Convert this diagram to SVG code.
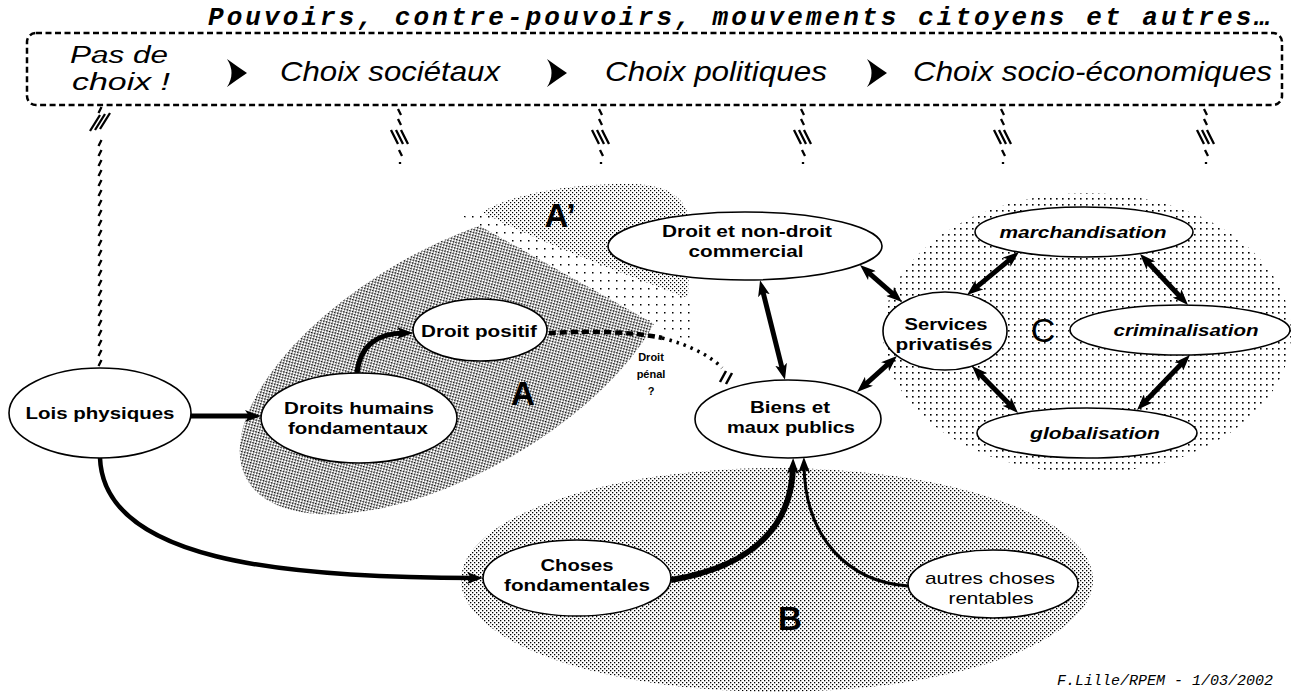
<svg xmlns="http://www.w3.org/2000/svg" xmlns:xlink="http://www.w3.org/1999/xlink" width="1297" height="693" viewBox="0 0 1297 693">
<style>
.sans{font-family:"Liberation Sans",Arial,sans-serif;fill:#000}
.mono{font-family:"Liberation Mono","Courier New",monospace;fill:#000}
.nb{font-weight:bold;font-size:17px;text-anchor:middle}
.nr{font-size:17px;text-anchor:middle}
.ni{font-weight:bold;font-style:italic;font-size:17px;text-anchor:middle}
.hd{font-style:italic;font-size:28px}
.hd2{font-style:italic;font-size:23px}
.big{font-weight:bold;font-size:33px;text-anchor:middle}
.node{fill:#fff;stroke:#000;stroke-width:1.6}
.arr{fill:none;stroke:#000;stroke-linecap:butt}
.hatch{fill:none;stroke:#000;stroke-width:2.3}
</style>
<defs>
<pattern id="pA" width="4" height="4" patternUnits="userSpaceOnUse"><rect width="1.6" height="1.6" fill="#000"/><rect x="2" y="2" width="1.6" height="1.6" fill="#000"/></pattern>
<pattern id="pA2" width="4" height="4" patternUnits="userSpaceOnUse"><rect width="1.2" height="1.2" fill="#000"/><rect x="2" y="2" width="1.2" height="1.2" fill="#000"/></pattern>
<pattern id="pB" width="4" height="4" patternUnits="userSpaceOnUse"><rect width="1.3" height="1.3" fill="#000"/><rect x="2" y="2" width="1.3" height="1.3" fill="#000"/></pattern>
<pattern id="pC" width="6" height="6" patternUnits="userSpaceOnUse"><rect width="1.6" height="1.6" fill="#000"/></pattern>
<pattern id="pS" width="8" height="8" patternUnits="userSpaceOnUse"><rect width="1.5" height="1.5" fill="#000"/></pattern>
<marker id="ah" viewBox="0 0 16 12" markerWidth="16" markerHeight="12" refX="8" refY="6" orient="auto-start-reverse" markerUnits="userSpaceOnUse"><path d="M0,0 L16,6 L0,12 L4,6 Z" fill="#000"/></marker>
<g id="hs" class="hatch"><path d="M-2,3 l3,6 M-2,13 l3,6 M-9,24 l7,14 M-4,24 l7,14 M1,24 l7,14 M-1,44 l3,6 M0,56 l0,2"/></g>
</defs>
<rect width="1297" height="693" fill="#fff"/>

<g id="regions">
<ellipse cx="455" cy="360" rx="240" ry="112" transform="rotate(-30 455 360)" fill="url(#pA)"/>
<path d="M462,216 L500,212 L690,300 L690,342 L672,334 Z" fill="#fff"/>
<path d="M462,216 L500,212 L690,300 L690,342 L672,334 Z" fill="url(#pS)"/>
<path d="M482,212 C512,194 572,183 632,184 C672,185 690,200 690,230 L688,298 C640,280 545,245 482,212 Z" fill="#fff"/>
<path d="M482,212 C512,194 572,183 632,184 C672,185 690,200 690,230 L688,298 C640,280 545,245 482,212 Z" fill="url(#pA2)"/>
<ellipse cx="777" cy="580" rx="316" ry="112" fill="url(#pB)"/>
<ellipse cx="1087" cy="333" rx="204" ry="140" fill="url(#pC)"/>
</g>

<g id="header">
<text class="mono" x="208" y="25" font-size="26" font-weight="bold" font-style="italic" textLength="1062" lengthAdjust="spacing">Pouvoirs, contre-pouvoirs, mouvements citoyens et autres…</text>
<rect x="27" y="33" width="1255" height="72" rx="9" fill="none" stroke="#000" stroke-width="2.5" stroke-dasharray="6 3.5"/>
<text class="sans hd2" x="70" y="63" textLength="98" lengthAdjust="spacingAndGlyphs">Pas de</text>
<text class="sans hd2" x="72" y="90" textLength="98" lengthAdjust="spacingAndGlyphs">choix  !</text>
<text class="sans hd" x="280" y="81" textLength="220" lengthAdjust="spacingAndGlyphs">Choix sociétaux</text>
<text class="sans hd" x="605" y="81" textLength="222" lengthAdjust="spacingAndGlyphs">Choix politiques</text>
<text class="sans hd" x="913" y="81" textLength="359" lengthAdjust="spacingAndGlyphs">Choix socio-économiques</text>
<path d="M227,59 Q238,67 247,73 Q238,79 227,87 Q236,73 227,59 Z" fill="#000"/>
<path d="M547,59 Q558,67 567,73 Q558,79 547,87 Q556,73 547,59 Z" fill="#000"/>
<path d="M867,59 Q878,67 887,73 Q878,79 867,87 Q876,73 867,59 Z" fill="#000"/>
</g>

<g id="hatched-links">
<path class="hatch" d="M101.5,107 l-3,6 M110,113 l-10,16 M105,114 l-10,16 M100,115 l-10,16 M101.5,140 l-3,6 M101.5,150 l-3,6 M101.5,160 l-3,6 M101.5,170 l-3,6 M101.5,180 l-3,6 M101.5,190 l-3,6 M101.5,200 l-3,6 M101.5,210 l-3,6 M101.5,220 l-3,6 M101.5,230 l-3,6 M101.5,240 l-3,6 M101.5,250 l-3,6 M101.5,260 l-3,6 M101.5,270 l-3,6 M101.5,280 l-3,6 M101.5,290 l-3,6 M101.5,300 l-3,6 M101.5,310 l-3,6 M101.5,320 l-3,6 M101.5,330 l-3,6 M101.5,340 l-3,6 M101.5,350 l-3,6 M101.5,360 l-3,6"/>
<use xlink:href="#hs" href="#hs" x="400" y="106"/>
<use xlink:href="#hs" href="#hs" x="601" y="106"/>
<use xlink:href="#hs" href="#hs" x="803" y="106"/>
<use xlink:href="#hs" href="#hs" x="1003" y="106"/>
<use xlink:href="#hs" href="#hs" x="1206" y="106"/>
</g>

<g id="n-lois"><ellipse class="node" cx="100" cy="413" rx="91" ry="45"/><text class="sans nb" x="100" y="419" textLength="149" lengthAdjust="spacingAndGlyphs">Lois physiques</text></g>
<g id="n-droits-humains"><ellipse class="node" cx="359" cy="418" rx="98" ry="45"/><text class="sans nb" x="359" y="414" textLength="150" lengthAdjust="spacingAndGlyphs">Droits humains</text><text class="sans nb" x="358" y="434" textLength="140" lengthAdjust="spacingAndGlyphs">fondamentaux</text></g>
<g id="n-droit-positif"><ellipse class="node" cx="480" cy="330" rx="67" ry="31"/><text class="sans nb" x="479" y="337" textLength="116" lengthAdjust="spacingAndGlyphs">Droit positif</text></g>
<g id="n-droit-commercial"><ellipse class="node" cx="745" cy="246" rx="137" ry="34"/><text class="sans nb" x="747" y="237" textLength="170" lengthAdjust="spacingAndGlyphs">Droit et non-droit</text><text class="sans nb" x="746" y="257" textLength="115" lengthAdjust="spacingAndGlyphs">commercial</text></g>
<g id="n-biens"><ellipse class="node" cx="788" cy="419" rx="93" ry="39"/><text class="sans nb" x="790" y="413" textLength="80" lengthAdjust="spacingAndGlyphs">Biens et</text><text class="sans nb" x="791" y="433" textLength="128" lengthAdjust="spacingAndGlyphs">maux publics</text></g>
<g id="n-services"><ellipse class="node" cx="945" cy="331" rx="62" ry="39"/><text class="sans nb" x="946" y="330" textLength="83" lengthAdjust="spacingAndGlyphs">Services</text><text class="sans nb" x="944" y="350" textLength="97" lengthAdjust="spacingAndGlyphs">privatisés</text></g>
<g id="n-marchandisation"><ellipse class="node" cx="1084" cy="232" rx="109" ry="25"/><text class="sans ni" x="1083" y="238" textLength="167" lengthAdjust="spacingAndGlyphs">marchandisation</text></g>
<g id="n-criminalisation"><ellipse class="node" cx="1180" cy="330" rx="110" ry="25"/><text class="sans ni" x="1186" y="336" textLength="145" lengthAdjust="spacingAndGlyphs">criminalisation</text></g>
<g id="n-globalisation"><ellipse class="node" cx="1087" cy="433" rx="110" ry="25"/><text class="sans ni" x="1095" y="439" textLength="130" lengthAdjust="spacingAndGlyphs">globalisation</text></g>
<g id="n-choses"><ellipse class="node" cx="577" cy="578" rx="94" ry="38"/><text class="sans nb" x="577" y="571" textLength="73" lengthAdjust="spacingAndGlyphs">Choses</text><text class="sans nb" x="577" y="591" textLength="146" lengthAdjust="spacingAndGlyphs">fondamentales</text></g>
<g id="n-autres"><ellipse class="node" cx="993" cy="584" rx="85" ry="34"/><text class="sans nr" x="990" y="584" textLength="130" lengthAdjust="spacingAndGlyphs">autres choses</text><text class="sans nr" x="991" y="604" textLength="85" lengthAdjust="spacingAndGlyphs">rentables</text></g>

<g id="connectors">
<path class="arr" d="M191,416 L253,416" stroke-width="5" marker-end="url(#ah)"/>
<path class="arr" d="M100,458 C104,560 280,578 475,578" stroke-width="4.5" marker-end="url(#ah)"/>
<path class="arr" d="M357,373 C360,345 378,333 405,333" stroke-width="5" marker-end="url(#ah)"/>
<path class="arr" d="M671,580 C760,565 792,520 793,466" stroke-width="6" marker-end="url(#ah)"/>
<path class="arr" d="M908,586 C850,582 805,540 804,465" stroke-width="3" marker-end="url(#ah)"/>
<path class="arr" d="M762,288 L783,372" stroke-width="5" marker-start="url(#ah)" marker-end="url(#ah)"/>
<path class="arr" d="M866,270.3 L896,296.7" stroke-width="5" marker-start="url(#ah)" marker-end="url(#ah)"/>
<path class="arr" d="M891,361.4 L863,386.6" stroke-width="5" marker-start="url(#ah)" marker-end="url(#ah)"/>
<path class="arr" d="M973.2,289.9 L1012.8,257.1" stroke-width="5" marker-start="url(#ah)" marker-end="url(#ah)"/>
<path class="arr" d="M977.6,371.7 L1012.4,407.3" stroke-width="5" marker-start="url(#ah)" marker-end="url(#ah)"/>
<path class="arr" d="M1145.5,259.8 L1182.5,299.2" stroke-width="5" marker-start="url(#ah)" marker-end="url(#ah)"/>
<path class="arr" d="M1184.4,360.8 L1142.6,404.2" stroke-width="5" marker-start="url(#ah)" marker-end="url(#ah)"/>
<path class="arr" d="M549,333 C585,331 630,331 662,338" stroke-width="4.5" stroke-dasharray="7 4"/>
<path class="arr" d="M662,338 C690,345 712,357 722,368" stroke-width="3.5" stroke-dasharray="2.5 5"/>
<path class="arr" d="M720,382 l6,-11 M726,384 l6,-11" stroke-width="2.5"/>
</g>

<g id="labels">
<text class="sans big" x="523" y="405">A</text>
<text class="sans big" x="560" y="227" text-anchor="start">A’</text>
<text class="sans big" x="790" y="630" font-size="35">B</text>
<text class="sans" x="1043" y="342" font-size="34" text-anchor="middle">C</text>
<text class="sans" x="651" y="361" font-size="11" font-weight="bold" text-anchor="middle">Droit</text>
<text class="sans" x="651" y="378" font-size="11" font-weight="bold" text-anchor="middle">pénal</text>
<text class="sans" x="651" y="395" font-size="11" font-weight="bold" text-anchor="middle">?</text>
<text class="mono" x="1057" y="685" font-size="14" font-style="italic" textLength="216" lengthAdjust="spacingAndGlyphs">F.Lille/RPEM - 1/03/2002</text>
</g>
</svg>
